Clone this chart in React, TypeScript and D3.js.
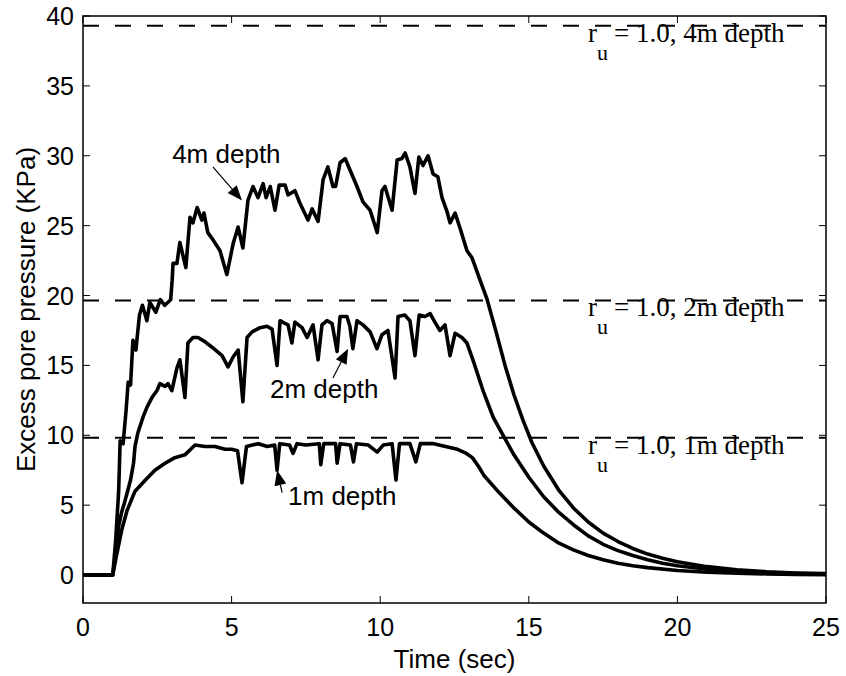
import React from 'react';
import * as d3 from 'd3';

// time (sec) / excess pore pressure (kPa)
const t4m = [0, 1.0, 1.1, 1.2, 1.25, 1.35, 1.45, 1.52, 1.6, 1.68, 1.78, 1.9, 2.0, 2.15, 2.25, 2.45, 2.6, 2.75, 2.95, 3.0, 3.03, 3.16, 3.26, 3.46, 3.6, 3.7, 3.84, 4.0, 4.07, 4.2, 4.37, 4.61, 4.84, 5.05, 5.22, 5.38, 5.55, 5.72, 5.89, 6.06, 6.16, 6.3, 6.46, 6.6, 6.8, 6.9, 7.13, 7.3, 7.57, 7.71, 7.91, 8.08, 8.24, 8.41, 8.5, 8.65, 8.82, 8.98, 9.22, 9.42, 9.66, 9.9, 10.06, 10.16, 10.4, 10.57, 10.73, 10.84, 11.0, 11.17, 11.3, 11.44, 11.61, 11.78, 11.94, 12.08, 12.25, 12.35, 12.52, 12.69, 12.92, 13.09, 13.36, 13.6, 13.9, 14.2, 14.5, 14.8, 15.1, 15.5, 16.0, 16.5, 17.0, 17.5, 18.0, 18.5, 19.0, 19.5, 20, 21, 22, 23, 24, 25];
const p4m = [0, 0, 2.5, 6, 9.6, 9.4, 11.8, 13.8, 13.6, 16.8, 16.1, 18.6, 19.3, 18.2, 19.5, 18.8, 19.7, 19.3, 19.7, 21.1, 22.3, 22.3, 23.8, 22, 25.6, 25.2, 26.3, 25.4, 25.9, 24.5, 24, 23.2, 21.5, 23.7, 24.9, 23.4, 26.8, 27.8, 27, 28, 27, 27.8, 26.1, 27.9, 27.9, 27.2, 27.5, 26.6, 25.4, 26.2, 25.3, 28.3, 29.2, 27.8, 27.8, 29.5, 29.8, 29, 27.8, 26.7, 26.1, 24.5, 27.5, 27.8, 26.1, 29.7, 29.8, 30.2, 29.2, 27.3, 29.9, 29.3, 30, 28.7, 28.5, 27, 26, 25.2, 25.9, 24.8, 23.2, 22.7, 21.1, 19.7, 17.4, 15.0, 12.9, 11.1, 9.5, 7.8, 6.1, 4.8, 3.8, 3.0, 2.4, 1.9, 1.5, 1.2, 0.95, 0.6, 0.38, 0.24, 0.15, 0.1];

const t2m = [0, 1.0, 1.1, 1.2, 1.3, 1.4, 1.5, 1.6, 1.7, 1.75, 1.85, 2.02, 2.15, 2.32, 2.49, 2.59, 2.76, 2.86, 2.99, 3.16, 3.26, 3.43, 3.53, 3.7, 3.87, 4.1, 4.34, 4.51, 4.68, 4.88, 5.05, 5.22, 5.38, 5.52, 5.69, 5.96, 6.19, 6.36, 6.53, 6.63, 6.8, 6.9, 7.03, 7.13, 7.37, 7.54, 7.74, 7.91, 8.04, 8.21, 8.38, 8.55, 8.65, 8.88, 8.98, 9.08, 9.22, 9.42, 9.66, 9.89, 10.06, 10.26, 10.5, 10.6, 10.83, 11.0, 11.17, 11.31, 11.51, 11.68, 11.84, 12.01, 12.18, 12.35, 12.52, 12.75, 12.92, 13.12, 13.46, 13.8, 14.03, 14.5, 15, 15.5, 16, 16.5, 17, 17.5, 18, 18.5, 19, 19.5, 20, 21, 22, 23, 24, 25];
const p2m = [0, 0, 1.5, 3.5, 4.5, 5.2, 6.0, 6.8, 8.0, 9.2, 10.2, 11.3, 12, 12.7, 13.2, 13.7, 13.5, 13.7, 13.2, 14.8, 15.4, 12.7, 16.6, 17, 17, 16.7, 16.3, 16, 15.7, 14.9, 15.6, 16.1, 12.4, 17, 17.4, 17.7, 17.8, 17.6, 15, 18.2, 18.0, 17.9, 16.6, 18.1, 17.7, 17, 17.9, 15.4, 17.9, 18.2, 18.0, 16, 18.5, 18.5, 17.8, 16.2, 18.2, 17.9, 17.4, 16.2, 17.2, 17.5, 14.1, 18.5, 18.6, 18.2, 15.7, 18.6, 18.5, 18.7, 18.1, 17.5, 17.9, 15.7, 17.3, 17, 16.6, 15.4, 13.2, 11.3, 10.4, 8.6, 7.0, 5.6, 4.5, 3.6, 2.8, 2.2, 1.75, 1.4, 1.1, 0.85, 0.67, 0.42, 0.26, 0.17, 0.11, 0.07];

const t1m = [0, 1.0, 1.1, 1.3, 1.48, 1.75, 2.1, 2.42, 2.76, 3.09, 3.43, 3.77, 4.1, 4.44, 4.78, 5.0, 5.2, 5.35, 5.5, 5.9, 6.2, 6.45, 6.53, 6.62, 6.95, 7.07, 7.2, 7.5, 7.95, 8.0, 8.1, 8.5, 8.55, 8.65, 9.0, 9.1, 9.2, 9.6, 9.9, 10.1, 10.4, 10.53, 10.65, 11.0, 11.2, 11.35, 11.8, 12.2, 12.6, 12.9, 13.1, 13.3, 13.5, 14, 14.5, 15, 15.5, 16, 16.5, 17, 17.5, 18, 18.5, 19, 20, 21, 22, 23, 24, 25];
const p1m = [0, 0, 1.1, 3.2, 4.6, 6, 6.8, 7.5, 8, 8.4, 8.6, 9.3, 9.2, 9.2, 9.0, 9.0, 8.9, 6.6, 9.2, 9.4, 9.2, 9.3, 7.5, 9.4, 9.3, 8.7, 9.4, 9.3, 9.4, 7.9, 9.4, 9.4, 8.0, 9.4, 9.3, 8.1, 9.4, 9.3, 8.8, 9.3, 9.4, 6.8, 9.4, 9.4, 8.1, 9.4, 9.4, 9.2, 9.0, 8.7, 8.4, 7.8, 7.1, 5.9, 4.8, 3.8, 3.0, 2.3, 1.8, 1.4, 1.1, 0.85, 0.67, 0.53, 0.33, 0.2, 0.13, 0.08, 0.05, 0.03];

// r_u = 1.0 reference levels
const ruLevels = [39.3, 19.65, 9.82];
const ruLabels = ['4m', '2m', '1m'];

const xTicks = [0, 5, 10, 15, 20, 25];
const yTicks = [0, 5, 10, 15, 20, 25, 30, 35, 40];

// curve labels: text anchor (t, p), arrow from -> to
const noteText = ['4m depth', '2m depth', '1m depth'];
const noteAt = [[3.0, 29.5], [6.29, 12.7], [6.9, 5.0]];
const arrowFrom = [[4.37, 29.2], [8.41, 14.1], [6.7, 5.9]];
const arrowTo = [[5.35, 26.8], [8.92, 16.2], [6.53, 7.5]];

const W = 846;
const H = 676;
const left = 83;
const right = 826;
const top = 16;
const bottom = 603;

const sans = 'Liberation Sans, Arial, Helvetica, sans-serif';
const serif = 'Liberation Serif, Times New Roman, serif';

const App = () => {
  const x = d3.scaleLinear().domain([0, 25]).range([left, right]);
  const y = d3.scaleLinear().domain([-2, 40]).range([bottom, top]);

  const line = d3.line<[number, number]>()
    .x(d => x(d[0]))
    .y(d => y(d[1]));

  const series = [
    d3.zip(t4m, p4m) as [number, number][],
    d3.zip(t2m, p2m) as [number, number][],
    d3.zip(t1m, p1m) as [number, number][],
  ];

  const arrowHead = (i: number) => {
    const x1 = x(arrowFrom[i][0]), y1 = y(arrowFrom[i][1]);
    const x2 = x(arrowTo[i][0]), y2 = y(arrowTo[i][1]);
    const a = Math.atan2(y2 - y1, x2 - x1);
    const len = 15, half = 6;
    const bx = x2 - len * Math.cos(a), by = y2 - len * Math.sin(a);
    const px = -Math.sin(a) * half, py = Math.cos(a) * half;
    return {
      shaft: [x1, y1, bx, by],
      pts: `${x2},${y2} ${bx + px},${by + py} ${bx - px},${by - py}`,
    };
  };

  return (
    <svg width={W} height={H} style={{ position: 'absolute', left: 0, top: 0, background: '#fff' }}>
      <rect x={0} y={0} width={W} height={H} fill="#fff" />

      {/* ticks on all four sides, pointing in */}
      {xTicks.map(t => (
        <g key={'xt' + t} stroke="#000" strokeWidth={1}>
          <line x1={x(t)} x2={x(t)} y1={bottom} y2={bottom - 7} />
          <line x1={x(t)} x2={x(t)} y1={top} y2={top + 7} />
        </g>
      ))}
      {yTicks.map(t => (
        <g key={'yt' + t} stroke="#000" strokeWidth={1}>
          <line x1={left} x2={left + 7} y1={y(t)} y2={y(t)} />
          <line x1={right} x2={right - 7} y1={y(t)} y2={y(t)} />
        </g>
      ))}

      {/* r_u = 1 lines */}
      {ruLevels.map((v, i) => (
        <line key={'ru' + i} x1={left} x2={right} y1={y(v)} y2={y(v)}
          stroke="#000" strokeWidth={2} strokeDasharray="16,16" />
      ))}

      {series.map((s, i) => (
        <path key={'s' + i} d={line(s) || ''} fill="none" stroke="#000"
          strokeWidth={3.6} strokeLinejoin="round" />
      ))}

      <rect x={left} y={top} width={right - left} height={bottom - top}
        fill="none" stroke="#000" strokeWidth={1.5} />

      {ruLevels.map((v, i) => (
        <g key={'rl' + i} fontFamily={serif} fill="#000">
          <text x={588} y={y(v) + 16} fontSize={27}>r</text>
          <text x={597} y={y(v) + 34} fontSize={22}>u</text>
          <text x={614} y={y(v) + 16} fontSize={27}>{`= 1.0, ${ruLabels[i]} depth`}</text>
        </g>
      ))}

      {noteText.map((s, i) => {
        const a = arrowHead(i);
        return (
          <g key={'n' + i}>
            <text x={x(noteAt[i][0])} y={y(noteAt[i][1])} fontFamily={sans} fontSize={26} fill="#000">{s}</text>
            <line x1={a.shaft[0]} y1={a.shaft[1]} x2={a.shaft[2]} y2={a.shaft[3]} stroke="#000" strokeWidth={1.2} />
            <polygon points={a.pts} fill="#000" />
          </g>
        );
      })}

      {xTicks.map(t => (
        <text key={'xl' + t} x={x(t)} y={636} textAnchor="middle"
          fontFamily={sans} fontSize={25} fill="#000">{t}</text>
      ))}
      {yTicks.map(t => (
        <text key={'yl' + t} x={74} y={y(t) + 9} textAnchor="end"
          fontFamily={sans} fontSize={25} fill="#000">{t}</text>
      ))}

      <text x={(left + right) / 2} y={668} textAnchor="middle"
        fontFamily={sans} fontSize={26} fill="#000">Time (sec)</text>
      <text transform={`translate(35, ${(top + bottom) / 2}) rotate(-90)`} textAnchor="middle"
        fontFamily={sans} fontSize={26} fill="#000">Excess pore pressure (KPa)</text>
    </svg>
  );
};

export default App;
